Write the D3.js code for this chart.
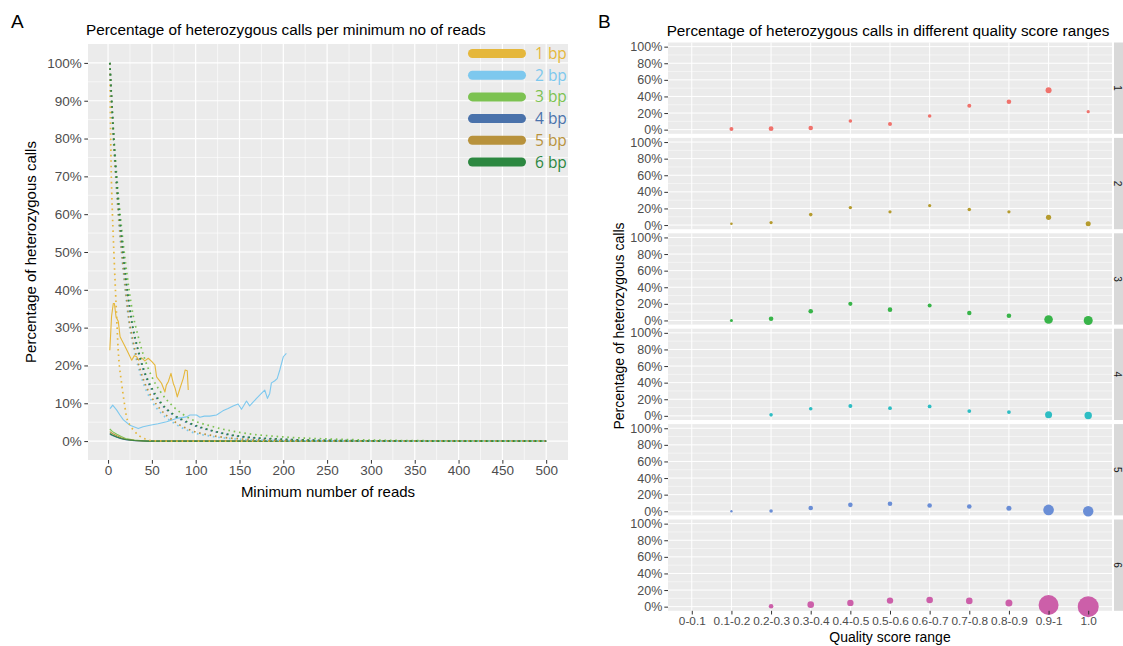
<!DOCTYPE html>
<html>
<head>
<meta charset="utf-8">
<script src="https://cdn.jsdelivr.net/npm/d3@7"></script>
<style>
  body { margin: 0; background: #fff; }
  text { font-family: "Liberation Sans", Arial, sans-serif; }
</style>
</head>
<body>
<div id="vis"></div>
<script>

// ---------- panel A data (minimum number of reads vs % heterozygous) ----------
const seriesNames = ["1 bp", "2 bp", "3 bp", "4 bp", "5 bp", "6 bp"];

// observed values, [min reads, percent]
const observed1bp = [[2,24],[4,33],[6,36.4],[7.2,36.4],[9.1,32.9],[11.7,31.6],[13.7,27.6],[15.6,26.7],[19.4,25],[23.2,23.2],[27,21.4],[30,22.6],[32.6,22.3],[35,21.4],[38.3,22],[42,21.2],[45.9,21.9],[50,21],[53.5,20.1],[55.4,17],[58,16.2],[61,15.3],[64.9,13],[66.5,14.8],[68.7,15.7],[71.8,17.9],[74.4,15.3],[76.5,14],[79,11.7],[82,13.9],[85.8,16.6],[88,18.8],[90.4,18.6],[91.5,13.5]];
const observed2bp = [[2.3,8.6],[5.3,9.5],[9.9,8.2],[13.5,6.9],[17.5,5.6],[25,4.2],[34.5,3.3],[40,3.8],[47.8,4.2],[57,4.6],[66.8,5.1],[78,6],[89.6,6.4],[93.4,6.9],[101,6.9],[104.8,6.3],[110,6.6],[116,6.6],[123.8,6.9],[131,8],[137,8.6],[142.7,9.3],[148.4,9.8],[152.3,8.4],[158,10.6],[161.6,9.3],[165.5,10.3],[170,11.4],[175,12.6],[178.8,13.5],[181.9,11.3],[184.5,12.6],[186.4,15.4],[190,15.9],[193,16.5],[196,18.8],[200,22.3],[203.5,23.2]];
const observed3bp = [[2,3.2],[5,2.5],[10,1.8],[15,1.2],[20,0.7],[30,0.3],[40,0.1],[60,0],[500,0]];
const observed4bp = [[2,1.8],[5,1.5],[10,1],[15,0.6],[20,0.35],[30,0.1],[45,0],[500,0]];
const observed5bp = [[2,2.5],[5,2],[10,1.4],[15,0.9],[20,0.5],[30,0.2],[40,0.05],[60,0],[500,0]];
const observed6bp = [[2,2],[5,1.6],[10,1.1],[15,0.7],[20,0.4],[30,0.15],[45,0],[500,0]];

// expected values (dotted curves)
const expReads1bp = [2,3.4,5,6.8,9,11.6,15.6,18,21,25,29,35,42,51,70,100,200,300,400,500];
const expPct1bp   = [100,74,60,49,37,24,15,11,6.5,4.2,2.9,1.5,0.6,0.1,0,0,0,0,0,0];
const expReads = [2,6,10,16,20,24,28,34,40,50,60,75,93,120,150,200,260,320,400,500];
const expPct2bp = [100,80,65,48,39,31,26,20,15.5,10.5,7.5,4.8,2.6,1.2,0.5,0.15,0.05,0,0,0];
const expPct3bp = [100,83,70,55,47,40,34,28,23,17,13,9,6,3.8,2.3,1.1,0.5,0.2,0.05,0];
const expPct4bp = [100,82,68,52,43,36,30,24,19,13.5,10,6.8,4.6,2.6,1.2,0.45,0.15,0.05,0,0];
const expPct5bp = [100,81,66,49,40,32,27,21,16.5,11.5,8.3,5.3,3,1.4,0.6,0.2,0.05,0,0,0];
const expPct6bp = [100,82,68,52.5,43.5,36.5,30.5,24.5,19.5,14,10.3,7,4.8,2.7,1.3,0.5,0.15,0.05,0,0];

const readTicks = [0,50,100,150,200,250,300,350,400,450,500];
const pctTicksA = [0,10,20,30,40,50,60,70,80,90,100];

// ---------- panel B data (quality score range) ----------
const qualityRanges = ["0-0.1","0.1-0.2","0.2-0.3","0.3-0.4","0.4-0.5","0.5-0.6","0.6-0.7","0.7-0.8","0.8-0.9","0.9-1","1.0"];
const facetLabels = ["1","2","3","4","5","6"];
const hetPct1 = [null,0.8,1.2,2,10.4,6.8,16.4,28.8,33.6,47.6,21.6];
const hetPct2 = [null,1.5,3,12.6,21,16,23.5,18.7,16,9.3,1.5];
const hetPct3 = [null,0,2,11,20,13,18,9,5.7,1.2,0];
const hetPct4 = [null,null,1.2,8.5,12,9.3,11.3,5.7,4.5,1.2,0.4];
const hetPct5 = [null,0,0.4,4,7.7,9,7,5.7,3.6,1.6,0];
const hetPct6 = [null,null,0.4,2.4,4.5,7.3,8,6.9,4.5,2,0];
// number of calls in each range (point size)
const calls1 = [null,400,580,530,320,400,320,400,530,900,260];
const calls2 = [null,170,260,320,290,260,260,320,260,680,630];
const calls3 = [null,230,530,530,440,530,400,480,530,1850,2030];
const calls4 = [null,null,320,320,400,360,360,360,360,1230,1370];
const calls5 = [null,140,320,530,530,530,530,530,630,2810,2700];
const calls6 = [null,null,530,1090,1020,1020,1090,1090,1230,10000,11030];
const pctTicksB = [0,20,40,60,80,100];

// ---------- styles ----------
const lineColors = ["#E5B73B","#7DC8EE","#7CC251","#4A72AB","#B8923C","#2C8740"];
const facetColors = ["#F0726C","#B59B2E","#38B449","#2DBDC3","#6A8ED6","#CC5FA9"];
const panelFill = "#EBEBEB";

const WIDTH = 1123, HEIGHT = 646;

const svg = d3.select("#vis")
  .append("svg")
  .attr("width", WIDTH)
  .attr("height", HEIGHT);

// =============== panel A ===============
const A = { left: 88, right: 568, top: 44, bottom: 460 };

const xA = d3.scaleLinear().domain([-22.9, 524.9]).range([A.left, A.right]);
const yA = d3.scaleLinear().domain([-5, 105]).range([A.bottom, A.top]);

const gA = svg.append("g").attr("id", "panelA");

gA.append("rect")
  .attr("x", A.left).attr("y", A.top)
  .attr("width", A.right - A.left).attr("height", A.bottom - A.top)
  .attr("fill", panelFill);

// minor grid
gA.selectAll(".minorX")
  .data(readTicks.slice(0, -1).map((d, i) => (d + readTicks[i + 1]) / 2))
  .join("line")
  .attr("x1", d => xA(d)).attr("x2", d => xA(d))
  .attr("y1", A.top).attr("y2", A.bottom)
  .attr("stroke", "#fff").attr("stroke-width", 0.6);
gA.selectAll(".minorY")
  .data(pctTicksA.slice(0, -1).map((d, i) => (d + pctTicksA[i + 1]) / 2))
  .join("line")
  .attr("x1", A.left).attr("x2", A.right)
  .attr("y1", d => yA(d)).attr("y2", d => yA(d))
  .attr("stroke", "#fff").attr("stroke-width", 0.6);
// major grid
gA.selectAll(".majorX")
  .data(readTicks)
  .join("line")
  .attr("x1", d => xA(d)).attr("x2", d => xA(d))
  .attr("y1", A.top).attr("y2", A.bottom)
  .attr("stroke", "#fff").attr("stroke-width", 1.2);
gA.selectAll(".majorY")
  .data(pctTicksA)
  .join("line")
  .attr("x1", A.left).attr("x2", A.right)
  .attr("y1", d => yA(d)).attr("y2", d => yA(d))
  .attr("stroke", "#fff").attr("stroke-width", 1.2);

const lineA = d3.line()
  .x(d => xA(d[0]))
  .y(d => yA(d[1]));
const curveA = d3.line()
  .x(d => xA(d[0]))
  .y(d => yA(d[1]))
  .curve(d3.curveMonotoneX);

const observed = [observed1bp, observed2bp, observed3bp, observed4bp, observed5bp, observed6bp];
const expected = [
  d3.zip(expReads1bp, expPct1bp),
  d3.zip(expReads, expPct2bp),
  d3.zip(expReads, expPct3bp),
  d3.zip(expReads, expPct4bp),
  d3.zip(expReads, expPct5bp),
  d3.zip(expReads, expPct6bp)
];

const linesA = gA.append("g");
// solid observed lines
observed.forEach((s, i) => {
  linesA.append("path")
    .attr("d", lineA(s))
    .attr("fill", "none")
    .attr("stroke", lineColors[i])
    .attr("stroke-width", 1.1)
    .attr("stroke-linejoin", "round");
});
// dotted expected lines
expected.forEach((s, i) => {
  linesA.append("path")
    .attr("d", curveA(s))
    .attr("fill", "none")
    .attr("stroke", lineColors[i])
    .attr("stroke-width", 1.7)
    .attr("stroke-dasharray", "1.6,3.8");
});

// legend inside the panel
const legend = gA.append("g");
seriesNames.forEach((name, i) => {
  const ly = 53.5 + i * 21.7;
  legend.append("line")
    .attr("x1", 472.5).attr("x2", 521.5)
    .attr("y1", ly).attr("y2", ly)
    .attr("stroke", lineColors[i])
    .attr("stroke-width", 9)
    .attr("stroke-linecap", "round");
  legend.append("text")
    .attr("x", 535).attr("y", ly)
    .attr("dy", "0.36em")
    .style("font-family", "'Open Sans', sans-serif")
    .style("font-size", "15.5px")
    .attr("fill", lineColors[i])
    .text(name);
});

// axes
const axA_x = gA.append("g")
  .attr("transform", `translate(0,${A.bottom})`)
  .call(d3.axisBottom(xA).tickValues(readTicks).tickSize(3.7).tickPadding(1.5));
const axA_y = gA.append("g")
  .attr("transform", `translate(${A.left},0)`)
  .call(d3.axisLeft(yA).tickValues(pctTicksA).tickFormat(d => d + "%").tickSize(3.7).tickPadding(2.5));
[axA_x, axA_y].forEach(ax => {
  ax.select(".domain").remove();
  ax.selectAll(".tick line").attr("stroke", "#333").attr("stroke-width", 1);
  ax.selectAll(".tick text").attr("fill", "#4D4D4D")
    .style("font-family", "'Liberation Sans', Arial, sans-serif")
    .style("font-size", "13.5px");
});

gA.append("text")
  .attr("x", A.left - 2).attr("y", 35)
  .style("font-size", "15.3px").attr("fill", "#000")
  .text("Percentage of heterozygous calls per minimum no of reads");
gA.append("text")
  .attr("x", (A.left + A.right) / 2).attr("y", 497)
  .attr("text-anchor", "middle")
  .style("font-size", "15px")
  .text("Minimum number of reads");
gA.append("text")
  .attr("transform", `translate(36,${(A.top + A.bottom) / 2}) rotate(-90)`)
  .attr("text-anchor", "middle")
  .style("font-size", "15px")
  .text("Percentage of heterozygous calls");

svg.append("text").attr("x", 11).attr("y", 28).style("font-size", "19px").text("A");
svg.append("text").attr("x", 598).attr("y", 28).style("font-size", "19px").text("B");

// =============== panel B ===============
const B = { left: 668, right: 1112, top: 42.5, panelH: 91.3, step: 95.4 };

const xB = d3.scalePoint()
  .domain(qualityRanges)
  .range([B.left, B.right])
  .padding(0.6);
const rB = d3.scaleSqrt().domain([0, d3.max(calls6)]).range([0, 10.5]);

const facets = [
  { label: facetLabels[0], pct: hetPct1, n: calls1 },
  { label: facetLabels[1], pct: hetPct2, n: calls2 },
  { label: facetLabels[2], pct: hetPct3, n: calls3 },
  { label: facetLabels[3], pct: hetPct4, n: calls4 },
  { label: facetLabels[4], pct: hetPct5, n: calls5 },
  { label: facetLabels[5], pct: hetPct6, n: calls6 }
];

const gB = svg.append("g").attr("id", "panelB");

facets.forEach((f, i) => {
  const top = B.top + i * B.step;
  const bottom = top + B.panelH;
  const yB = d3.scaleLinear().domain([-5, 105]).range([bottom, top]);
  const g = gB.append("g");

  g.append("rect")
    .attr("x", B.left).attr("y", top)
    .attr("width", B.right - B.left).attr("height", B.panelH)
    .attr("fill", panelFill);

  g.selectAll(".minor")
    .data(pctTicksB.slice(0, -1).map((d, k) => (d + pctTicksB[k + 1]) / 2))
    .join("line")
    .attr("x1", B.left).attr("x2", B.right)
    .attr("y1", d => yB(d)).attr("y2", d => yB(d))
    .attr("stroke", "#fff").attr("stroke-width", 0.5);
  g.selectAll(".majorY")
    .data(pctTicksB)
    .join("line")
    .attr("x1", B.left).attr("x2", B.right)
    .attr("y1", d => yB(d)).attr("y2", d => yB(d))
    .attr("stroke", "#fff").attr("stroke-width", 1);
  g.selectAll(".majorX")
    .data(qualityRanges)
    .join("line")
    .attr("x1", d => xB(d)).attr("x2", d => xB(d))
    .attr("y1", top).attr("y2", bottom)
    .attr("stroke", "#fff").attr("stroke-width", 1);

  const pts = qualityRanges
    .map((q, k) => ({ q: q, pct: f.pct[k], n: f.n[k] }))
    .filter(d => d.pct !== null);
  g.selectAll("circle")
    .data(pts)
    .join("circle")
    .attr("cx", d => xB(d.q))
    .attr("cy", d => yB(d.pct))
    .attr("r", d => rB(d.n))
    .attr("fill", facetColors[i]);

  const ay = g.append("g")
    .attr("transform", `translate(${B.left},0)`)
    .call(d3.axisLeft(yB).tickValues(pctTicksB).tickFormat(d => d + "%").tickSize(3.7).tickPadding(2));
  ay.select(".domain").remove();
  ay.selectAll(".tick line").attr("stroke", "#333");
  ay.selectAll(".tick text").attr("fill", "#4D4D4D")
    .style("font-family", "'Liberation Sans', Arial, sans-serif")
    .style("font-size", "12.5px");

  // strip on the right
  g.append("rect")
    .attr("x", B.right + 2).attr("y", top)
    .attr("width", 20).attr("height", B.panelH)
    .attr("fill", "#D9D9D9");
  g.append("text")
    .attr("transform", `translate(${B.right + 5.5},${(top + bottom) / 2}) rotate(90)`)
    .attr("text-anchor", "middle")
    .attr("dy", "0.35em")
    .style("font-size", "10px")
    .attr("fill", "#1A1A1A")
    .text(f.label);

  if (i === facets.length - 1) {
    const ax = g.append("g")
      .attr("transform", `translate(0,${bottom})`)
      .call(d3.axisBottom(xB).tickSize(3.7).tickPadding(2));
    ax.select(".domain").remove();
    ax.selectAll(".tick line").attr("stroke", "#333");
    ax.selectAll(".tick text").attr("fill", "#4D4D4D")
      .style("font-family", "'Liberation Sans', Arial, sans-serif")
      .style("font-size", "11.8px");
  }
});

gB.append("text")
  .attr("x", 888).attr("y", 36)
  .attr("text-anchor", "middle")
  .style("font-size", "15.3px")
  .text("Percentage of heterozygous calls in different quality score ranges");
gB.append("text")
  .attr("x", (B.left + B.right) / 2).attr("y", 642)
  .attr("text-anchor", "middle")
  .style("font-size", "14px")
  .text("Quality score range");
gB.append("text")
  .attr("transform", `translate(624,326) rotate(-90)`)
  .attr("text-anchor", "middle")
  .style("font-size", "14px")
  .text("Percentage of heterozygous calls");

</script>
</body>
</html>
